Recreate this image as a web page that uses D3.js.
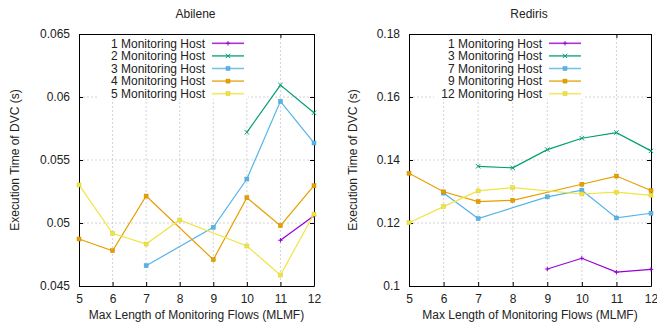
<!DOCTYPE html>
<html>
<head>
<meta charset="utf-8">
<script src="https://cdn.jsdelivr.net/npm/d3@7"></script>
<style>
  body { margin: 0; background: #fff; }
  svg { display: block; font-family: "Liberation Sans", Arial, sans-serif; }
</style>
</head>
<body>
<svg id="chart" width="657" height="322"></svg>
<script>
'use strict';

// x values shared by every series (null = no point measured)
const mlmf = [5, 6, 7, 8, 9, 10, 11, 12];

// Abilene
const abileneLabels = ['1 Monitoring Host', '2 Monitoring Host', '3 Monitoring Host', '4 Monitoring Host', '5 Monitoring Host'];
const abilene1 = [null, null, null, null, null, null, 0.04863, 0.05058];
const abilene2 = [null, null, null, null, null, 0.0572, 0.06095, 0.05875];
const abilene3 = [null, null, 0.04661, null, 0.04966, 0.05349, 0.05966, 0.05635];
const abilene4 = [0.04873, 0.0478, 0.05214, null, 0.04709, 0.05201, 0.04979, 0.05296];
const abilene5 = [0.05302, 0.04918, 0.04833, 0.05024, null, 0.04817, 0.04587, 0.05071];
const abileneTicks = [0.045, 0.05, 0.055, 0.06, 0.065];

// Rediris
const redirisLabels = ['1 Monitoring Host', '3 Monitoring Host', '7 Monitoring Host', '9 Monitoring Host', '12 Monitoring Host'];
const rediris1 = [null, null, null, null, 0.1054, 0.1088, 0.1044, 0.1053];
const rediris3 = [null, null, 0.138, 0.1375, 0.1433, 0.1469, 0.1487, 0.1429];
const rediris7 = [null, 0.1295, 0.1214, null, 0.1283, 0.1304, 0.1216, 0.1231];
const rediris9 = [0.1358, 0.1299, 0.1268, 0.1272, null, 0.1323, 0.1349, 0.1303];
const rediris12 = [0.1201, 0.1252, 0.1302, 0.1312, null, 0.1292, 0.1298, 0.1288];
const redirisTicks = [0.1, 0.12, 0.14, 0.16, 0.18];

const colors = ['#9400d3', '#009e73', '#56b4e9', '#e69f00', '#f0e442'];
const markers = ['plus', 'cross', 'square', 'square', 'square'];

const FS = 12;
const svg = d3.select('#chart');

const panels = [
  {
    title: 'Abilene', left: 79, right: 314, top: 34, bottom: 286,
    yDomain: [0.045, 0.065], yTicks: abileneTicks,
    ylabelX: 15, legendEnd: 205,
    labels: abileneLabels,
    series: [abilene1, abilene2, abilene3, abilene4, abilene5]
  },
  {
    title: 'Rediris', left: 409, right: 651, top: 34, bottom: 286,
    yDomain: [0.1, 0.18], yTicks: redirisTicks,
    ylabelX: 353, legendEnd: 542,
    labels: redirisLabels,
    series: [rediris1, rediris3, rediris7, rediris9, rediris12]
  }
];

const drawMarker = (g, kind, x, y, color) => {
  const s = 2.2;
  if (kind === 'plus') {
    g.append('path').attr('d', `M${x - s} ${y} H${x + s} M${x} ${y - s} V${y + s}`)
      .attr('stroke', color).attr('stroke-width', 1).attr('fill', 'none');
  } else if (kind === 'cross') {
    g.append('path').attr('d', `M${x - s} ${y - s} L${x + s} ${y + s} M${x - s} ${y + s} L${x + s} ${y - s}`)
      .attr('stroke', color).attr('stroke-width', 1).attr('fill', 'none');
  } else {
    g.append('rect').attr('x', x - 2).attr('y', y - 2).attr('width', 4).attr('height', 4)
      .attr('fill', color).attr('stroke', d3.color(color).darker(0.3)).attr('stroke-width', 0.5);
  }
};

panels.forEach(p => {
  const x = d3.scaleLinear().domain([5, 12]).range([p.left, p.right]);
  const y = d3.scaleLinear().domain(p.yDomain).range([p.bottom, p.top]);
  const g = svg.append('g');

  // grid
  g.append('g').selectAll('line.gx').data(mlmf.slice(1, -1)).join('line')
    .attr('x1', d => x(d)).attr('x2', d => x(d)).attr('y1', p.top).attr('y2', p.bottom)
    .attr('stroke', '#c8c8c8').attr('stroke-width', 0.8).attr('stroke-dasharray', '2,2');
  g.append('g').selectAll('line.gy').data(p.yTicks.slice(1, -1)).join('line')
    .attr('x1', p.left).attr('x2', p.right).attr('y1', d => y(d)).attr('y2', d => y(d))
    .attr('stroke', '#c8c8c8').attr('stroke-width', 0.8).attr('stroke-dasharray', '2,2');

  // axes (inward ticks, mirrored)
  const axFont = a => a.selectAll('text').attr('font-size', FS).attr('fill', '#222')
    .attr('font-family', '"Liberation Sans", Arial, sans-serif');
  const bx = g.append('g').attr('transform', `translate(0,${p.bottom})`)
    .call(d3.axisBottom(x).tickValues(mlmf).tickFormat(d3.format('d')).tickSizeInner(-4).tickSizeOuter(0).tickPadding(8));
  axFont(bx);
  const ly = g.append('g').attr('transform', `translate(${p.left},0)`)
    .call(d3.axisLeft(y).tickValues(p.yTicks).tickFormat(d => String(d)).tickSizeInner(-4).tickSizeOuter(0).tickPadding(9));
  axFont(ly);
  g.append('g').attr('transform', `translate(0,${p.top})`)
    .call(d3.axisTop(x).tickValues(mlmf).tickFormat('').tickSizeInner(-4).tickSizeOuter(0));
  g.append('g').attr('transform', `translate(${p.right},0)`)
    .call(d3.axisRight(y).tickValues(p.yTicks).tickFormat('').tickSizeInner(-4).tickSizeOuter(0));
  g.selectAll('.domain').attr('stroke', '#000');
  g.selectAll('.tick line').attr('stroke', '#000');

  // legend box (white, hides grid)
  const rowY = i => p.top + 9.3 + i * 12.6;
  const sx0 = p.legendEnd + 7, sx1 = p.legendEnd + 39;
  g.append('rect').attr('x', p.legendEnd - 108).attr('y', p.top + 1)
    .attr('width', sx1 + 4 - (p.legendEnd - 108)).attr('height', 64).attr('fill', '#fff');

  // series
  const line = d3.line().x(d => x(d[0])).y(d => y(d[1]));
  p.series.forEach((vals, i) => {
    const pts = mlmf.map((m, k) => [m, vals[k]]).filter(d => d[1] !== null);
    g.append('path').datum(pts).attr('d', line)
      .attr('fill', 'none').attr('stroke', colors[i]).attr('stroke-width', 1.2);
    pts.forEach(d => drawMarker(g, markers[i], x(d[0]), y(d[1]), colors[i]));

    g.append('text').attr('x', p.legendEnd).attr('y', rowY(i)).attr('dy', '0.35em')
      .attr('text-anchor', 'end').attr('font-size', FS).attr('fill', '#222').text(p.labels[i]);
    g.append('line').attr('x1', sx0).attr('x2', sx1).attr('y1', rowY(i)).attr('y2', rowY(i))
      .attr('stroke', colors[i]).attr('stroke-width', 1.6).attr('opacity', 0.8);
    drawMarker(g, markers[i], (sx0 + sx1) / 2, rowY(i), colors[i]);
  });

  // titles and labels
  g.append('text').attr('x', (p.left + p.right) / 2 - 1).attr('y', 18)
    .attr('text-anchor', 'middle').attr('font-size', FS).attr('fill', '#222').text(p.title);
  g.append('text').attr('x', (p.left + p.right) / 2).attr('y', 319)
    .attr('text-anchor', 'middle').attr('font-size', FS).attr('fill', '#222')
    .text('Max Length of Monitoring Flows (MLMF)');
  g.append('text').attr('transform', `translate(${p.ylabelX},${(p.top + p.bottom) / 2}) rotate(-90)`)
    .attr('dy', '0.35em').attr('text-anchor', 'middle').attr('font-size', FS).attr('fill', '#222')
    .text('Execution Time of DVC (s)');
});
</script>
</body>
</html>
